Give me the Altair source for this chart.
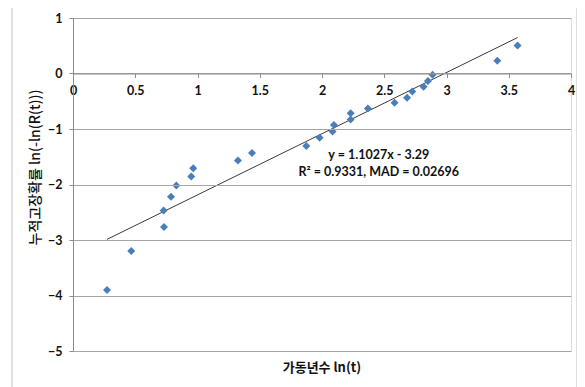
import altair as alt
import pandas as pd

# data
x_vals = [0.273, 0.468, 0.728, 0.731, 0.787, 0.830, 0.950, 0.966, 1.325, 1.438,
          1.874, 1.981, 2.085, 2.096, 2.230, 2.230, 2.369, 2.583, 2.683, 2.725,
          2.816, 2.851, 2.888, 3.408, 3.571]
y_vals = [-3.903, -3.200, -2.468, -2.768, -2.222, -2.018, -1.856, -1.705, -1.568, -1.434,
          -1.308, -1.159, -1.045, -0.930, -0.829, -0.714, -0.631, -0.528, -0.438, -0.324,
          -0.240, -0.137, -0.023, 0.229, 0.505]
slope = 1.1027
intercept = -3.29
x_ticks = [0, 0.5, 1, 1.5, 2, 2.5, 3, 3.5, 4]
y_ticks = [-5, -4, -3, -2, -1, 0, 1]
annotation_lines = ["y = 1.1027x - 3.29", "R\u00b2 = 0.9331, MAD = 0.02696"]
x_title = "가동년수 ln(t)"
y_title = "누적고장확률 ln(-ln(R(t)))"

pts = pd.DataFrame({"x": x_vals, "y": y_vals})
trend = pd.DataFrame({"x": [min(x_vals), max(x_vals)]})
trend["y"] = slope * trend["x"] + intercept

W, H = 498, 333
FONT = "Lato, 'Noto Sans CJK KR', sans-serif"
KFONT = "'Noto Sans CJK KR', sans-serif"

xscale = alt.Scale(domain=[0, 4], nice=False, zero=False)
yscale = alt.Scale(domain=[-5, 1], nice=False, zero=False)

xaxis = alt.Axis(values=x_ticks, format=".1~f", orient="bottom", offset=-H * 5 / 6,
                 grid=False, domainColor="#8c8c8c", tickColor="#8c8c8c", tickSize=4,
                 labelPadding=7, labelFont=FONT, labelFontWeight="bold", labelFontSize=12.5,
                 labelColor="#111111", labelFlush=False, title=None, zindex=1)
yaxis = alt.Axis(values=y_ticks, format="d", grid=True, gridColor="#a6a6a6",
                 domainColor="#8c8c8c", tickColor="#8c8c8c", tickSize=4, labelPadding=7,
                 labelFont=FONT, labelFontWeight="bold", labelFontSize=12.5,
                 labelColor="#111111", labelFlush=False, title=y_title, titleFont=KFONT,
                 titleFontWeight=500, titleFontSize=14, titleColor="#111111",
                 titleX=-38, titleY=149, titleAngle=-90, titleBaseline="middle",
                 titleAlign="center", zindex=1)

frame = alt.Chart(pd.DataFrame({"k": [0]})).mark_rect(
    fill="transparent", stroke="#d0d0d0", strokeWidth=1.3, cornerRadius=3
).encode(x=alt.value(-61), x2=alt.value(504), y=alt.value(-13.3), y2=alt.value(420))

points = alt.Chart(pts).mark_point(
    shape="diamond", filled=True, size=64, color="#4a7ebb", opacity=1
).encode(x=alt.X("x:Q", scale=xscale, axis=xaxis),
         y=alt.Y("y:Q", scale=yscale, axis=yaxis))

line = alt.Chart(trend).mark_line(color="#3a3a3a", strokeWidth=1).encode(
    x=alt.X("x:Q", scale=xscale), y=alt.Y("y:Q", scale=yscale))

ann1 = alt.Chart(pd.DataFrame({"t": [annotation_lines[0]]})).mark_text(
    font=FONT, fontWeight="bold", fontSize=12.5, color="#111111", align="center",
    baseline="middle"
).encode(x=alt.datum(2.456, scale=xscale), y=alt.datum(-1.465, scale=yscale), text="t:N")
ann2 = alt.Chart(pd.DataFrame({"t": [annotation_lines[1]]})).mark_text(
    font=FONT, fontWeight="bold", fontSize=12.5, color="#111111", align="center",
    baseline="middle", dy=16.7
).encode(x=alt.datum(2.456, scale=xscale), y=alt.datum(-1.465, scale=yscale), text="t:N")

xtitle = alt.Chart(pd.DataFrame({"t": [x_title]})).mark_text(
    font=KFONT, fontWeight="bold", fontSize=13, color="#111111", align="center",
    baseline="middle"
).encode(x=alt.value(W / 2), y=alt.value(349.5), text="t:N")

chart = alt.layer(frame, line, points, ann1, ann2, xtitle).properties(
    width=W, height=H,
    autosize=alt.AutoSizeParams(type="none"),
    padding={"left": 65, "top": 10, "right": 6, "bottom": 36},
).configure_view(strokeWidth=0).configure(background="white")

chart.save("out.html", embed_options={"renderer": "svg", "actions": False})
